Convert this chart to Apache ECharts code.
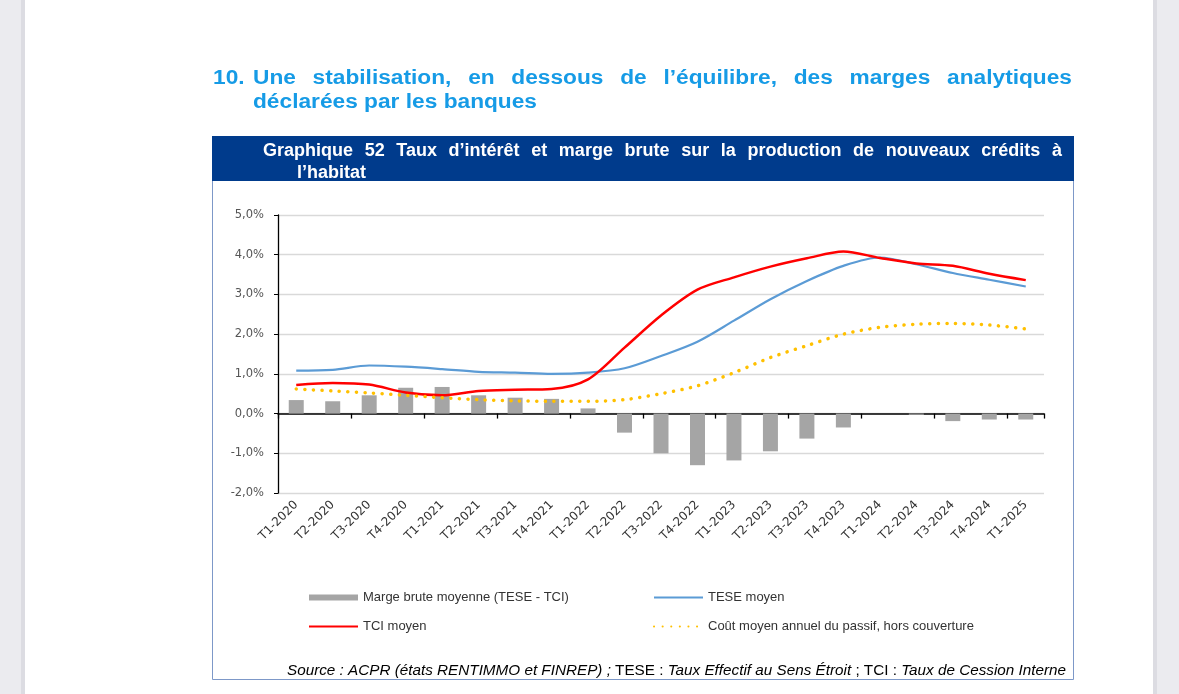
<!DOCTYPE html>
<html>
<head>
<meta charset="utf-8">
<script src="https://cdn.jsdelivr.net/npm/echarts@6/dist/echarts.min.js"></script>
<style>
  html, body { margin: 0; padding: 0; background: #ebebef; }
  #chart { width: 1179px; height: 694px; }
</style>
</head>
<body>
<div id="chart"></div>
<script>
// Quarters on the x axis
const categories = [
  'T1-2020', 'T2-2020', 'T3-2020', 'T4-2020',
  'T1-2021', 'T2-2021', 'T3-2021', 'T4-2021',
  'T1-2022', 'T2-2022', 'T3-2022', 'T4-2022',
  'T1-2023', 'T2-2023', 'T3-2023', 'T4-2023',
  'T1-2024', 'T2-2024', 'T3-2024', 'T4-2024',
  'T1-2025'
];

// Values in %
const margeBrute = [0.34, 0.31, 0.46, 0.65, 0.67, 0.46, 0.40, 0.37, 0.13, -0.48, -1.00,
  -1.30, -1.18, -0.95, -0.63, -0.35, 0.00, -0.03, -0.19, -0.15, -0.15];
const teseMoyen = [1.08, 1.10, 1.21, 1.18, 1.12, 1.05, 1.03, 1.00, 1.03, 1.14, 1.45,
  1.81, 2.34, 2.88, 3.34, 3.72, 3.93, 3.76, 3.54, 3.37, 3.20];
const tciMoyen = [0.72, 0.77, 0.73, 0.53, 0.46, 0.57, 0.60, 0.62, 0.86, 1.66, 2.47,
  3.12, 3.43, 3.70, 3.91, 4.08, 3.92, 3.78, 3.72, 3.52, 3.36];
const coutPassif = [0.62, 0.57, 0.52, 0.46, 0.40, 0.35, 0.32, 0.31, 0.31, 0.35, 0.50,
  0.70, 1.03, 1.41, 1.71, 2.00, 2.17, 2.25, 2.27, 2.23, 2.13];

const yMin = -2;
const yMax = 5;

const seriesNames = [
  'Marge brute moyenne (TESE - TCI)',
  'TESE moyen',
  'TCI moyen',
  'Coût moyen annuel du passif, hors couverture'
];

const pageTitle = ['10.', 'Une stabilisation, en dessous de l’équilibre, des marges analytiques', 'déclarées par les banques'];
const chartTitle = ['Graphique 52 Taux d’intérêt et marge brute sur la production de nouveaux crédits à', 'l’habitat'];
const sourceParts = [
  ['i', 'Source : ACPR (états RENTIMMO et FINREP) ;'],
  ['n', ' TESE : '],
  ['i', 'Taux Effectif au Sens Étroit'],
  ['n', ' ; TCI : '],
  ['i', 'Taux de Cession Interne']
];

const measureCtx = document.createElement('canvas').getContext('2d');
function textWidth(text, font) {
  measureCtx.font = font;
  return measureCtx.measureText(text).width;
}

// lay words of one line out so it fills x0..x1 (justified text)
function justifyLine(text, x0, x1, y, font, color, sx) {
  const words = text.split(' ');
  const widths = words.map(w => textWidth(w, font) * sx);
  const total = widths.reduce((a, b) => a + b, 0);
  const gap = (x1 - x0 - total) / (words.length - 1);
  let x = x0;
  return words.map((w, i) => {
    const el = plainText(w, x, y, font, color, sx);
    x += widths[i] + gap;
    return el;
  });
}

function plainText(text, x, y, font, color, sx) {
  return {
    type: 'text', x: x, y: y, z: 10, scaleX: sx || 1,
    style: { text: text, font: font, fill: color, align: 'left', verticalAlign: 'middle' }
  };
}

const titleFont = 'bold 20px "Liberation Sans", Arial, sans-serif';
const titleColor = '#169be6';
const titleScale = 284 / textWidth(pageTitle[2], titleFont);
const headFont = 'bold 18px "Liberation Sans", Arial, sans-serif';

const srcItalic = 'italic 14px "Liberation Sans", Arial, sans-serif';
const srcNormal = '14px "Liberation Sans", Arial, sans-serif';
const srcWidth = sourceParts.reduce((s, p) => s + textWidth(p[1], p[0] === 'i' ? srcItalic : srcNormal), 0);
const srcScale = 779 / srcWidth;

const graphics = [
  // white page
  { type: 'rect', shape: { x: 25, y: 0, width: 1128, height: 694 }, style: { fill: '#ffffff' }, z: -10 },
  { type: 'rect', shape: { x: 21, y: 0, width: 4, height: 694 }, style: { fill: '#dcdce2' }, z: -10 },
  { type: 'rect', shape: { x: 1153, y: 0, width: 4, height: 694 }, style: { fill: '#dcdce2' }, z: -10 },
  // chart frame and header band
  { type: 'rect', shape: { x: 212.5, y: 136.5, width: 861, height: 543 }, style: { fill: '#ffffff', stroke: '#7d98c8', lineWidth: 1 }, z: -9 },
  { type: 'rect', shape: { x: 212, y: 136, width: 862, height: 45 }, style: { fill: '#003b8c' }, z: -8 },
  plainText(pageTitle[0], 213, 78, titleFont, titleColor, titleScale),
  ...justifyLine(pageTitle[1], 253, 1072, 78, titleFont, titleColor, titleScale),
  plainText(pageTitle[2], 253, 102, titleFont, titleColor, titleScale),
  ...justifyLine(chartTitle[0], 263, 1062, 151, headFont, '#ffffff', 1),
  plainText(chartTitle[1], 297, 173, headFont, '#ffffff', 1),
  {
    type: 'text', x: 1066, y: 671, z: 10, scaleX: srcScale,
    style: {
      text: sourceParts.map(p => '{' + p[0] + '|' + p[1] + '}').join(''),
      align: 'right', verticalAlign: 'middle',
      rich: {
        i: { font: srcItalic, fill: '#000000' },
        n: { font: srcNormal, fill: '#000000' }
      }
    }
  }
];

const chart = echarts.init(document.getElementById('chart'));

const legendText = { fontFamily: '"Liberation Sans", Arial, sans-serif', fontSize: 13, color: '#333333' };
const hideSymbol = { opacity: 0 };

const option = {
  backgroundColor: '#ebebef',
  animation: false,
  graphic: graphics,
  grid: { left: 278, top: 215, width: 766, height: 278 },
  legend: [
    {
      data: [
        { name: seriesNames[0], icon: 'rect' },
        { name: seriesNames[2], itemStyle: hideSymbol }
      ],
      orient: 'vertical', left: 303, top: 586,
      itemWidth: 49, itemHeight: 6, itemGap: 16,
      textStyle: legendText
    },
    {
      data: [
        { name: seriesNames[1], itemStyle: hideSymbol },
        { name: seriesNames[3], itemStyle: hideSymbol }
      ],
      orient: 'vertical', left: 648, top: 586,
      itemWidth: 49, itemHeight: 6, itemGap: 16,
      textStyle: legendText
    }
  ],
  xAxis: [
    {
      type: 'category', data: categories, position: 'bottom',
      axisLine: { onZero: true, lineStyle: { color: '#000000', width: 1.5 } },
      axisTick: { show: true, length: 5, lineStyle: { color: '#000000', width: 1.3 } },
      axisLabel: { show: false },
      splitLine: { show: false }
    },
    {
      type: 'category', data: categories, position: 'bottom',
      axisLine: { show: false, onZero: false },
      axisTick: { show: false },
      axisLabel: {
        rotate: 45, margin: 10, fontSize: 12, color: '#333333',
        fontFamily: '"DejaVu Sans", Verdana, sans-serif'
      }
    }
  ],
  yAxis: {
    type: 'value', min: yMin, max: yMax, interval: 1,
    axisLine: { show: true, lineStyle: { color: '#000000', width: 1.3 } },
    axisTick: { show: true, length: 4, lineStyle: { color: '#000000' } },
    axisLabel: {
      margin: 14, fontSize: 11.5, color: '#555555',
      fontFamily: '"DejaVu Sans", Verdana, sans-serif',
      formatter: v => v.toFixed(1).replace('.', ',') + '%'
    },
    splitLine: { lineStyle: { color: '#d9d9d9', width: 1.3 } }
  },
  series: [
    {
      name: seriesNames[0], type: 'bar', data: margeBrute, xAxisIndex: 0,
      barWidth: 15, itemStyle: { color: '#a5a5a5' }, z: 2
    },
    {
      name: seriesNames[1], type: 'line', data: teseMoyen, xAxisIndex: 0,
      smooth: 0.3, symbol: 'none', z: 3,
      itemStyle: { color: '#5b9bd5' },
      lineStyle: { color: '#5b9bd5', width: 2.2 }
    },
    {
      name: seriesNames[2], type: 'line', data: tciMoyen, xAxisIndex: 0,
      smooth: 0.3, symbol: 'none', z: 4,
      itemStyle: { color: '#ff0000' },
      lineStyle: { color: '#ff0000', width: 2.5 }
    },
    {
      name: seriesNames[3], type: 'line', data: coutPassif, xAxisIndex: 0,
      smooth: 0.3, symbol: 'none', z: 5,
      itemStyle: { color: '#ffc000' },
      lineStyle: { color: '#ffc000', width: 3.5, type: [0.1, 8.5], cap: 'round' }
    }
  ]
};

chart.setOption(option);
</script>
</body>
</html>
